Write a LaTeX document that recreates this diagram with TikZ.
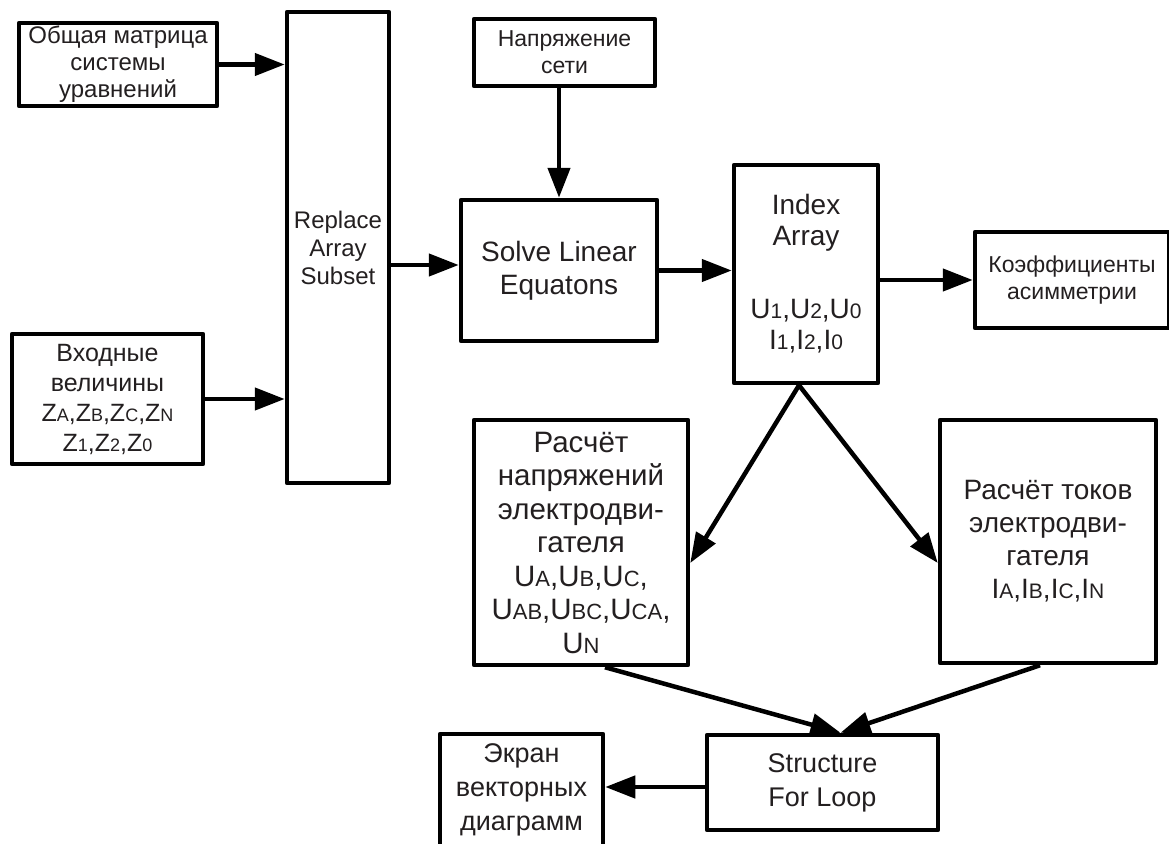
\documentclass[tikz,border=0pt]{standalone}
\usepackage{fontspec}
\setmainfont{Liberation Sans}
\usetikzlibrary{arrows.meta,calc}
\definecolor{txt}{RGB}{35,31,32}
\newcommand{\lowsub}[2][17]{{\fontsize{#1}{#1}\selectfont #2}}
\begin{document}
\begin{tikzpicture}[x=1pt,y=-1pt,
  box/.style={draw, line width=4.5pt, line join=round, inner sep=0pt, align=center, text=txt},
  arr/.style={line width=4.5pt, -{Triangle[length=30pt,width=22pt]}}]
\useasboundingbox (0,0) rectangle (1169,843);
\clip (0,0) rectangle (1169,843);
\fill[white] (0,0) rectangle (1169,843);

\node[box, minimum width=198pt, minimum height=83pt, font=\fontsize{24}{27}\selectfont] (mat) at (118,64.5) {Общая матрица\\системы\\уравнений};
\node[box, minimum width=102pt, minimum height=471pt, font=\fontsize{24}{28}\selectfont] (rep) at (338,247.5) {Replace\\Array\\Subset};
\node[box, minimum width=191pt, minimum height=130pt, font=\fontsize{25}{30}\selectfont] (inp) at (107.5,399) {Входные\\величины\\Z\lowsub[18]{A},Z\lowsub[18]{B},Z\lowsub[18]{C},Z\lowsub[18]{N}\\Z\lowsub[18]{1},Z\lowsub[18]{2},Z\lowsub[18]{0}};
\node[box, minimum width=181pt, minimum height=67pt, font=\fontsize{23}{27}\selectfont] (nap) at (564.5,52.5) {Напряжение\\сети};
\node[box, minimum width=196pt, minimum height=141pt, font=\fontsize{28}{33}\selectfont] (sol) at (559,270.5) {Solve Linear\\Equatons};
\node[box, minimum width=144pt, minimum height=218pt, font=\fontsize{28}{31}\selectfont] (idx) at (806,274) {Index\\Array\\[42pt]U\lowsub[21]{1},U\lowsub[21]{2},U\lowsub[21]{0}\\I\lowsub[21]{1},I\lowsub[21]{2},I\lowsub[21]{0}};
\node[box, minimum width=194pt, minimum height=96pt, font=\fontsize{23}{27}\selectfont] (koef) at (1072,280) {Коэффициенты\\асимметрии};
\node[box, minimum width=214pt, minimum height=245pt, font=\fontsize{29.5}{33.5}\selectfont] (nap2) at (581,542.5) {Расчёт\\напряжений\\электродви-\\гателя\\U\lowsub[22]{A},U\lowsub[22]{B},U\lowsub[22]{C},\\U\lowsub[22]{AB},U\lowsub[22]{BC},U\lowsub[22]{CA},\\U\lowsub[22]{N}};
\node[box, minimum width=216pt, minimum height=243pt, font=\fontsize{28}{33}\selectfont] (tok) at (1048,541.5) {Расчёт токов\\электродви-\\гателя\\I\lowsub[21]{A},I\lowsub[21]{B},I\lowsub[21]{C},I\lowsub[21]{N}};
\node[box, minimum width=231pt, minimum height=95pt, font=\fontsize{27}{34}\selectfont] (str) at (822.5,782.5) {Structure\\For Loop};
\node[box, minimum width=163pt, minimum height=112pt, font=\fontsize{27}{34}\selectfont] (ekr) at (521.5,790) {Экран\\векторных\\диаграмм};

\draw[arr] (mat.east) -- (mat.east -| rep.west);
\draw[arr] (inp.east) -- (inp.east -| rep.west);
\coordinate (rs) at (rep.east |- 0,265);
\draw[arr] (rs) -- (rs -| sol.west);
\draw[arr] (sol.north |- nap.south) -- (sol.north);
\draw[arr] (sol.east) -- (sol.east -| idx.west);
\draw[arr] (idx.east |- koef.west) -- (koef.west);
\coordinate (ib) at ([xshift=-7pt]idx.south);
\draw[arr] (ib) -- (nap2.east |- 0,563);
\draw[arr] (ib) -- (tok.west |- 0,563);
\coordinate (si) at ([xshift=18pt]str.north);
\draw[arr] ([xshift=24pt]nap2.south) -- (si);
\draw[arr] ([xshift=-8pt]tok.south) -- (si);
\coordinate (sw) at (str.west |- 0,787);
\draw[arr] (sw) -- (sw -| ekr.east);
\end{tikzpicture}
\end{document}
